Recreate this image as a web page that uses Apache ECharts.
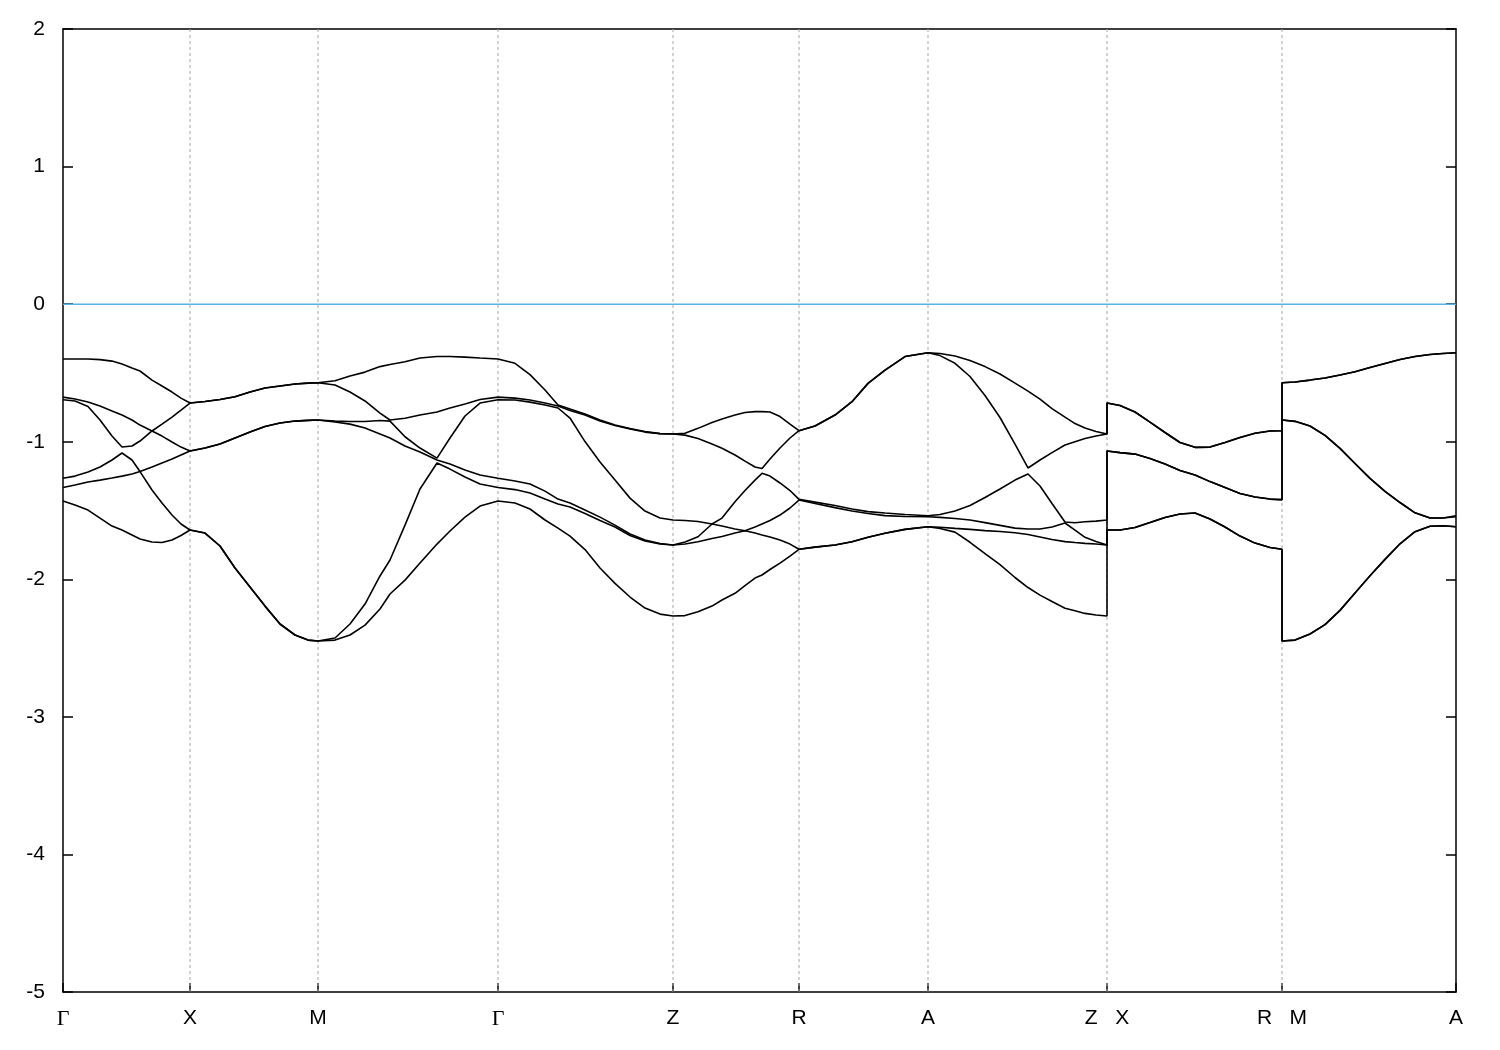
<!DOCTYPE html>
<html><head><meta charset="utf-8">
<script src="https://cdn.jsdelivr.net/npm/echarts@6/dist/echarts.min.js"></script>
<style>html,body{margin:0;padding:0;background:#fff}#c{width:1500px;height:1050px}</style>
</head><body><div id="c"></div>
<script>
// k-path coordinate (duplicated at the Z|X and R|M breaks)
const kpath = [
0,0.012,0.025,0.037,0.049,0.059,0.069,0.077,0.089,0.099,0.109,0.118,0.127,
0.142,0.157,0.172,0.187,0.202,0.217,0.232,0.245,0.255,
0.272,0.287,0.302,0.317,0.327,0.342,0.357,0.374,0.387,0.402,0.417,0.435,
0.452,0.467,0.482,0.495,0.507,0.522,0.537,0.552,0.567,0.582,0.597,0.610,
0.622,0.635,0.649,0.659,0.672,0.682,0.692,0.699,0.707,0.717,0.727,0.736,
0.752,0.772,0.789,0.805,0.822,0.842,0.865,
0.877,0.892,0.907,0.922,0.937,0.952,0.965,0.977,0.989,1.002,1.012,1.022,1.033,1.044,
1.044,1.057,1.072,1.087,1.102,1.117,1.132,1.147,1.162,1.177,1.192,1.207,1.219,
1.219,1.232,1.247,1.262,1.277,1.292,1.307,1.322,1.337,1.352,1.367,1.380,1.393];

const band1 = [
-1.431,-1.460,-1.497,-1.555,-1.613,-1.642,-1.678,-1.707,-1.729,-1.733,-1.715,-1.682,-1.642,
-1.664,-1.758,-1.918,-2.056,-2.195,-2.325,-2.405,-2.442,-2.449,
-2.442,-2.405,-2.333,-2.216,-2.107,-2.006,-1.882,-1.744,-1.649,-1.548,-1.468,-1.431,
-1.446,-1.489,-1.569,-1.628,-1.686,-1.784,-1.918,-2.030,-2.129,-2.209,-2.253,-2.267,
-2.264,-2.236,-2.195,-2.151,-2.102,-2.046,-1.991,-1.969,-1.929,-1.882,-1.831,-1.782,
-1.766,-1.751,-1.727,-1.695,-1.666,-1.637,-1.618,
-1.631,-1.657,-1.731,-1.813,-1.893,-1.987,-2.060,-2.115,-2.162,-2.211,-2.229,-2.248,-2.260,-2.267,
-1.642,-1.642,-1.624,-1.588,-1.551,-1.526,-1.518,-1.562,-1.620,-1.686,-1.737,-1.769,-1.782,
-2.449,-2.442,-2.398,-2.330,-2.226,-2.100,-1.974,-1.855,-1.742,-1.654,-1.614,-1.611,-1.618];

const band2 = [
-1.333,-1.315,-1.293,-1.279,-1.264,-1.250,-1.235,-1.217,-1.351,-1.446,-1.533,-1.598,-1.642,
-1.664,-1.758,-1.918,-2.056,-2.195,-2.325,-2.405,-2.442,-2.449,
-2.427,-2.325,-2.180,-1.976,-1.860,-1.606,-1.344,-1.155,-1.199,-1.257,-1.308,-1.333,
-1.348,-1.373,-1.417,-1.453,-1.475,-1.522,-1.573,-1.620,-1.682,-1.722,-1.744,-1.751,
-1.744,-1.727,-1.704,-1.689,-1.664,-1.647,-1.664,-1.678,-1.693,-1.715,-1.744,-1.782,
-1.766,-1.751,-1.727,-1.695,-1.666,-1.637,-1.618,
-1.622,-1.630,-1.637,-1.646,-1.653,-1.662,-1.675,-1.693,-1.711,-1.726,-1.733,-1.739,-1.744,-1.751,
-1.642,-1.642,-1.624,-1.588,-1.551,-1.526,-1.518,-1.562,-1.620,-1.686,-1.737,-1.769,-1.782,
-2.449,-2.442,-2.398,-2.330,-2.226,-2.100,-1.974,-1.855,-1.742,-1.654,-1.614,-1.611,-1.618];

const band3 = [
-1.265,-1.250,-1.220,-1.184,-1.133,-1.082,-1.133,-1.217,-1.184,-1.155,-1.126,-1.097,-1.068,
-1.046,-1.017,-0.973,-0.930,-0.890,-0.864,-0.850,-0.845,-0.842,
-0.857,-0.872,-0.901,-0.944,-0.973,-1.031,-1.075,-1.133,-1.162,-1.206,-1.242,-1.265,
-1.286,-1.308,-1.359,-1.417,-1.446,-1.497,-1.548,-1.606,-1.671,-1.715,-1.740,-1.751,
-1.729,-1.691,-1.598,-1.613,-1.635,-1.647,-1.620,-1.598,-1.573,-1.533,-1.482,-1.424,
-1.449,-1.479,-1.504,-1.522,-1.537,-1.544,-1.545,
-1.550,-1.558,-1.569,-1.588,-1.608,-1.628,-1.635,-1.635,-1.620,-1.591,-1.642,-1.695,-1.726,-1.751,
-1.068,-1.079,-1.090,-1.122,-1.162,-1.210,-1.242,-1.290,-1.333,-1.377,-1.402,-1.417,-1.424,
-0.842,-0.852,-0.886,-0.954,-1.048,-1.158,-1.266,-1.361,-1.442,-1.517,-1.555,-1.555,-1.545];

const band4 = [
-0.695,-0.704,-0.744,-0.842,-0.959,-1.039,-1.031,-0.995,-0.922,-0.959,-1.002,-1.039,-1.068,
-1.046,-1.017,-0.973,-0.930,-0.890,-0.864,-0.850,-0.845,-0.842,
-0.850,-0.853,-0.853,-0.846,-0.850,-0.964,-1.046,-1.119,-0.973,-0.813,-0.719,-0.695,
-0.697,-0.712,-0.733,-0.755,-0.828,-0.999,-1.148,-1.279,-1.410,-1.504,-1.555,-1.569,
-1.573,-1.580,-1.598,-1.555,-1.436,-1.355,-1.279,-1.230,-1.250,-1.300,-1.355,-1.419,
-1.439,-1.464,-1.489,-1.508,-1.518,-1.529,-1.538,
-1.529,-1.504,-1.464,-1.406,-1.344,-1.279,-1.235,-1.322,-1.449,-1.584,-1.589,-1.582,-1.577,-1.569,
-1.068,-1.079,-1.090,-1.122,-1.162,-1.210,-1.242,-1.290,-1.333,-1.377,-1.402,-1.417,-1.419,
-0.842,-0.852,-0.886,-0.954,-1.048,-1.158,-1.266,-1.361,-1.442,-1.517,-1.555,-1.555,-1.538];

const band5 = [
-0.676,-0.690,-0.712,-0.741,-0.777,-0.806,-0.842,-0.879,-0.922,-0.872,-0.821,-0.770,-0.719,
-0.708,-0.693,-0.673,-0.639,-0.610,-0.595,-0.581,-0.574,-0.571,
-0.588,-0.639,-0.704,-0.792,-0.842,-0.830,-0.806,-0.784,-0.755,-0.726,-0.693,-0.676,
-0.683,-0.697,-0.719,-0.741,-0.773,-0.806,-0.850,-0.882,-0.908,-0.930,-0.941,-0.944,
-0.952,-0.976,-1.017,-1.048,-1.097,-1.141,-1.184,-1.195,-1.126,-1.046,-0.973,-0.920,
-0.886,-0.806,-0.709,-0.576,-0.479,-0.381,-0.353,
-0.374,-0.430,-0.526,-0.664,-0.824,-1.017,-1.191,-1.133,-1.079,-1.024,-1.000,-0.976,-0.959,-0.944,
-0.719,-0.737,-0.784,-0.857,-0.933,-1.006,-1.041,-1.039,-1.006,-0.970,-0.939,-0.922,-0.920,
-0.571,-0.566,-0.552,-0.537,-0.515,-0.492,-0.461,-0.432,-0.403,-0.381,-0.366,-0.359,-0.353];

const band6 = [
-0.399,-0.399,-0.399,-0.403,-0.414,-0.435,-0.464,-0.486,-0.552,-0.595,-0.639,-0.683,-0.719,
-0.708,-0.693,-0.673,-0.639,-0.610,-0.595,-0.581,-0.574,-0.571,
-0.557,-0.523,-0.494,-0.454,-0.439,-0.419,-0.392,-0.381,-0.381,-0.385,-0.392,-0.399,
-0.430,-0.512,-0.624,-0.733,-0.763,-0.799,-0.842,-0.879,-0.904,-0.926,-0.941,-0.944,
-0.939,-0.903,-0.861,-0.835,-0.806,-0.788,-0.781,-0.781,-0.784,-0.817,-0.872,-0.920,
-0.886,-0.806,-0.709,-0.576,-0.479,-0.381,-0.353,
-0.359,-0.377,-0.410,-0.454,-0.508,-0.574,-0.632,-0.690,-0.759,-0.821,-0.868,-0.901,-0.926,-0.944,
-0.719,-0.737,-0.784,-0.857,-0.933,-1.006,-1.041,-1.039,-1.006,-0.970,-0.939,-0.922,-0.920,
-0.571,-0.566,-0.552,-0.537,-0.515,-0.492,-0.461,-0.432,-0.403,-0.381,-0.366,-0.359,-0.353];

// high-symmetry points
const symPos = [0, 0.127, 0.255, 0.435, 0.610, 0.736, 0.865, 1.044, 1.219, 1.393];
const symLabels = ['Γ', 'X', 'M', 'Γ', 'Z', 'R', 'A', 'Z   X', 'R   M', 'A'];
const fermiLevel = 0;
const yMin = -5, yMax = 2, yStep = 1;

const bands = [band1, band2, band3, band4, band5, band6];
const kMin = symPos[0], kMax = symPos[symPos.length - 1];

function labelFor(v) {
  let best = 0, bd = Infinity;
  symPos.forEach((p, i) => { const d = Math.abs(p - v); if (d < bd) { bd = d; best = i; } });
  const s = symLabels[best];
  return s === 'Γ' ? '{g|Γ}' : s;
}

const FONT = 'Liberation Sans, Arial, sans-serif';
const chart = echarts.init(document.getElementById('c'), null, {renderer: 'canvas'});
const axisLine = {show: true, onZero: false, lineStyle: {color: '#000', width: 1.5}};
const tickStyle = {color: '#000', width: 1.5};

const series = [];
// dashed vertical guides at the interior high-symmetry points
symPos.slice(1, -1).forEach(p => {
  series.push({
    type: 'line', data: [[p, yMin], [p, yMax]], showSymbol: false, symbol: 'none', silent: true, z: 1,
    lineStyle: {color: '#a8a8a8', width: 1, type: [3, 3]}
  });
});
// Fermi level
series.push({
  type: 'line', data: [[kMin, fermiLevel], [kMax, fermiLevel]], showSymbol: false, symbol: 'none', silent: true, z: 2,
  lineStyle: {color: '#56b4e9', width: 1.5}
});
// bands
bands.forEach(b => {
  series.push({
    type: 'line',
    data: kpath.map((k, i) => [k, b[i]]),
    showSymbol: false,
    symbol: 'none',
    lineStyle: {color: '#000', width: 1.6},
    z: 5,
    silent: true
  });
});

chart.setOption({
  animation: false,
  backgroundColor: '#fff',
  grid: {left: 63, right: 44, top: 29, bottom: 58, containLabel: false},
  xAxis: [{
    type: 'value', min: kMin, max: kMax, position: 'bottom',
    axisLine: axisLine,
    splitLine: {show: false},
    axisTick: {show: true, inside: true, length: 9, customValues: symPos, lineStyle: tickStyle},
    axisLabel: {
      show: true, customValues: symPos, margin: 16, color: '#000', fontSize: 21, fontFamily: FONT,
      formatter: labelFor,
      rich: {g: {fontFamily: 'Liberation Serif, Times New Roman, serif', fontSize: 22, color: '#000'}}
    }
  }, {
    type: 'value', min: kMin, max: kMax, position: 'top',
    axisLine: axisLine,
    splitLine: {show: false},
    axisTick: {show: false},
    axisLabel: {show: false}
  }],
  yAxis: [{
    type: 'value', min: yMin, max: yMax, interval: yStep, position: 'left',
    axisLine: axisLine,
    splitLine: {show: false},
    axisTick: {show: true, inside: true, length: 10, lineStyle: tickStyle},
    axisLabel: {show: true, margin: 18, color: '#000', fontSize: 21, fontFamily: FONT}
  }, {
    type: 'value', min: yMin, max: yMax, interval: yStep, position: 'right',
    axisLine: axisLine,
    splitLine: {show: false},
    axisTick: {show: true, inside: true, length: 10, lineStyle: tickStyle},
    axisLabel: {show: false}
  }],
  series: series
});
</script>
</body></html>
